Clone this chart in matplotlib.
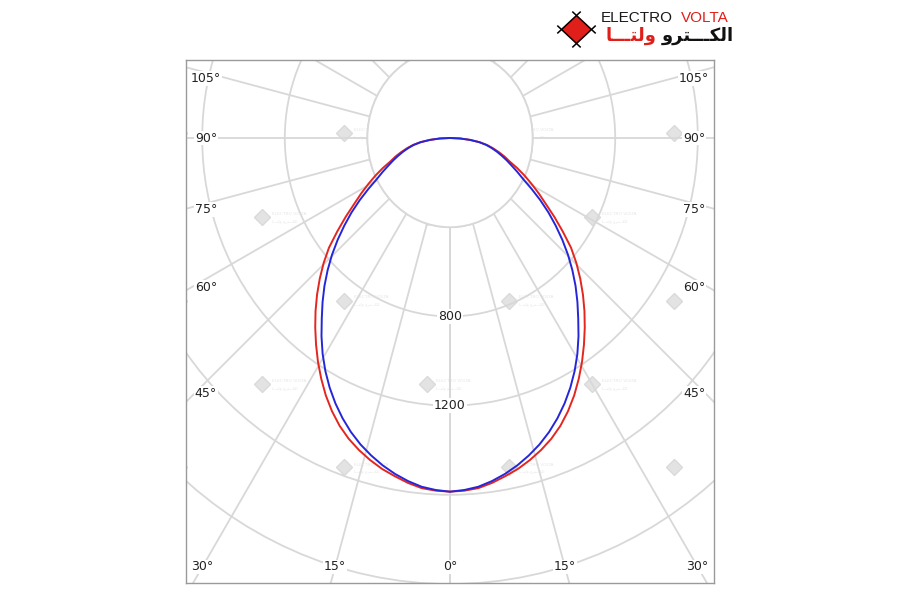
import matplotlib.pyplot as plt
import numpy as np
from matplotlib.patches import Circle, Polygon

# luminous intensity (cd) against angle from nadir
angles = [0, 2.5, 5, 7.5, 10, 12.5, 15, 17.5, 20, 22.5, 25, 27.5, 30, 32.5,
          35, 37.5, 40, 42.5, 45, 47.5, 50, 52.5, 55, 57.5, 60, 62.5, 65,
          67.5, 70, 72.5, 75, 77.5, 80, 82.5, 85, 87.5, 90]
red_c0 = [1586, 1583, 1576, 1560, 1540, 1520, 1495, 1467, 1435, 1397, 1352,
          1302, 1247, 1190, 1131, 1072, 1013, 953, 892, 830, 765, 688, 617,
          550, 496, 445, 398, 352, 307, 277, 245, 214, 183, 146, 98, 50, 0]
blue_c90 = [1586, 1580, 1570, 1552, 1530, 1504, 1474, 1441, 1403, 1360, 1313,
            1262, 1207, 1148, 1085, 1020, 960, 900, 838, 775, 710, 645, 582,
            518, 456, 400, 360, 323, 292, 262, 234, 206, 178, 142, 97, 49, 0]

ring_values = [400, 800, 1200, 1600, 2000, 2400]
ring_labels = [800, 1200]
spoke_angles = list(range(0, 181, 15))
side_labels = [105, 90, 75, 60, 45]
bottom_labels = [30, 15, 0, 15, 30]
bottom_signs = [-1, -1, 0, 1, 1]

AR_KITRO = "\uFEED\uFEAE\uFE98\u0640\u0640\u0640\uFEDC\uFEDF\uFE8D"
AR_VOLTA = "\uFE8E\u0640\u0640\u0640\uFE98\uFEDF\uFEED"

# picture geometry (pixels)
CX, CY = 450, 138
LEFT, TOP, RIGHT, BOTTOM = 186, 60, 714, 583
SX, SY = 0.2065, 0.2230  # px per cd, horizontal / vertical
GRID = "#d8d8d8"


def px_to_data(px, py):
    return (px - CX) / SX, -(py - CY) / SY


fig = plt.figure(figsize=(9, 6), dpi=100)
ax = fig.add_axes([LEFT / 900, (600 - BOTTOM) / 600,
                   (RIGHT - LEFT) / 900, (BOTTOM - TOP) / 600])
x0, y0 = px_to_data(LEFT, BOTTOM)
x1, y1 = px_to_data(RIGHT, TOP)
ax.set_xlim(x0, x1)
ax.set_ylim(y0, y1)
ax.set_xticks([])
ax.set_yticks([])
for sp in ax.spines.values():
    sp.set_color("#9a9a9a")
    sp.set_linewidth(1.0)

# faint watermark tiles
for k in range(5):
    py = 133.5 + 83.5 * k
    for j in range(4):
        px = 179 + 165 * j + (82.5 if k % 2 else 0)
        mx, my = px_to_data(px, py)
        ax.plot(mx, my, marker="D", ms=8.5, color="#e3e3e3", mec="#dadada",
                zorder=0.5)
        if px < 190 or px > 660:
            continue
        tx, ty = px_to_data(px + 10, py - 3)
        ax.text(tx, ty, "ELECTRO VOLTA", fontsize=3.2, color="#e6e6e6",
                va="center", ha="left", zorder=0.5, clip_on=True)
        tx, ty = px_to_data(px + 10, py + 4)
        ax.text(tx, ty, AR_VOLTA + " " + AR_KITRO, fontsize=3.2,
                color="#e6e6e6", va="center", ha="left", zorder=0.5,
                clip_on=True)

# spokes, drawn at true angles on the picture
for a in spoke_angles:
    for s in (-1, 1):
        t = np.radians(a)
        d = np.array([s * np.sin(t) / SX, -np.cos(t) / SY])
        d /= np.hypot(*d)
        ax.plot([0, 5000 * d[0]], [0, 5000 * d[1]], color=GRID, lw=1.3,
                zorder=1)

# rings
for r in ring_values:
    ax.add_patch(Circle((0, 0), r, fill=False, ec=GRID, lw=1.3, zorder=1.5))
ax.add_patch(Circle((0, 0), ring_values[0], fc="white", ec=GRID, lw=1.3,
                    zorder=2))

for r in ring_labels:
    ax.text(0, -r, str(r), fontsize=9, color="#222222", ha="center",
            va="center", zorder=4,
            bbox=dict(fc="white", ec="none", pad=1.0))

# intensity curves, mirrored about nadir
th = np.radians(angles)
for vals, col in ((red_c0, "#e3261f"), (blue_c90, "#2626d9")):
    v = np.asarray(vals, dtype=float)
    tt = np.concatenate([-th[::-1], th[1:]])
    vv = np.concatenate([v[::-1], v[1:]])
    ax.plot(vv * np.sin(tt), -vv * np.cos(tt), color=col, lw=1.4, zorder=3,
            solid_joinstyle="round")

# angle labels
label_kw = dict(fontsize=9, color="#222222", ha="center", va="center",
                zorder=4, bbox=dict(fc="white", ec="none", pad=0.6))
for a in side_labels:
    t = np.radians(a)
    yc = 244 * np.cos(t) / np.sin(t)
    off = 0 if a == 90 else 4 + 0.03 * abs(yc)
    for s in (-1, 1):
        lx, ly = px_to_data(CX + s * 244, CY + yc + off)
        ax.text(lx, ly, f"{a}\u00b0", **label_kw)
for a, s in zip(bottom_labels, bottom_signs):
    xc = 429 * np.tan(np.radians(a))
    lx, ly = px_to_data(CX + s * xc, CY + 429)
    ax.text(lx, ly, f"{a}\u00b0", **label_kw)

# logo
lg = fig.add_axes([0, 0, 1, 1])
lg.set_xlim(0, 900)
lg.set_ylim(600, 0)
lg.axis("off")
dcx, dcy, hw, hh = 576.5, 29.5, 15, 14
verts = np.array([[dcx, dcy - hh], [dcx + hw, dcy], [dcx, dcy + hh],
                  [dcx - hw, dcy]])
lg.add_patch(Polygon(verts, closed=True, fc="#e01f1a", ec="none"))
for i in range(4):
    p, q = verts[i], verts[(i + 1) % 4]
    u = (q - p) / np.hypot(*(q - p))
    a_, b_ = p - 5 * u, q + 5 * u
    lg.plot([a_[0], b_[0]], [a_[1], b_[1]], color="black", lw=1.1)

lg.text(673, 18.5, "ELECTRO", family="Liberation Sans", fontsize=11,
        color="#1a1a1a", ha="right", va="center")
lg.text(681, 18.5, "VOLTA", family="Liberation Sans", fontsize=11,
        color="#e01f1a", ha="left", va="center")
lg.text(734, 36, AR_KITRO, family="DejaVu Sans", fontweight="bold",
        fontsize=13, color="#111111", ha="right", va="center")
lg.text(656, 36, AR_VOLTA, family="DejaVu Sans", fontweight="bold",
        fontsize=13, color="#e01f1a", ha="right", va="center")

fig.savefig("out.png", dpi=100, facecolor="white")
